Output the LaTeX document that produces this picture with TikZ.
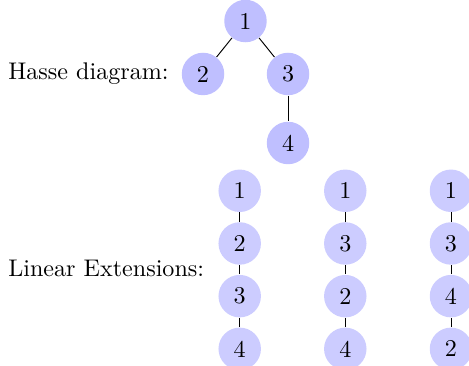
\documentclass[tikz,border=0pt]{standalone}
\usepackage{tikz}
\usetikzlibrary{positioning}

\begin{document}
\begin{tikzpicture}[
    every node/.style={font=\fontsize{10.2pt}{12pt}\selectfont},
    hasse/.style={circle, fill=blue!25, minimum size=0.632cm, inner sep=0pt},
    ext/.style={circle, fill=blue!20, minimum size=0.632cm, inner sep=0pt},
    link/.style={thin},
    node distance=0.138cm
]
    \useasboundingbox (0,0) rectangle (6.979,-5.446);

    % Hasse diagram
    \node[anchor=west] (hlabel) at (0,-1.101) {Hasse diagram:};
    \node[hasse] (h1) at (3.653,-0.313) {1};
    \node[hasse] (h2) at (3.021,-1.101) {2};
    \node[hasse] (h3) at (4.286,-1.101) {3};
    \node[hasse] (h4) at (4.286,-2.128) {4};

    \draw[link] (h1) -- (h2);
    \draw[link] (h1) -- (h3);
    \draw[link] (h3) -- (h4);

    % Linear extensions
    \node[anchor=west] (llabel) at (0,-3.993) {Linear Extensions:};

    \node[ext] (a1) at (3.567,-2.839) {1};
    \node[ext, below=of a1] (a2) {2};
    \node[ext, below=of a2] (a3) {3};
    \node[ext, below=of a3] (a4) {4};

    \node[ext] (b1) at (5.138,-2.839) {1};
    \node[ext, below=of b1] (b2) {3};
    \node[ext, below=of b2] (b3) {2};
    \node[ext, below=of b3] (b4) {4};

    \node[ext] (c1) at (6.711,-2.839) {1};
    \node[ext, below=of c1] (c2) {3};
    \node[ext, below=of c2] (c3) {4};
    \node[ext, below=of c3] (c4) {2};

    \draw[link] (a1) -- (a2) -- (a3) -- (a4);
    \draw[link] (b1) -- (b2) -- (b3) -- (b4);
    \draw[link] (c1) -- (c2) -- (c3) -- (c4);
\end{tikzpicture}
\end{document}
